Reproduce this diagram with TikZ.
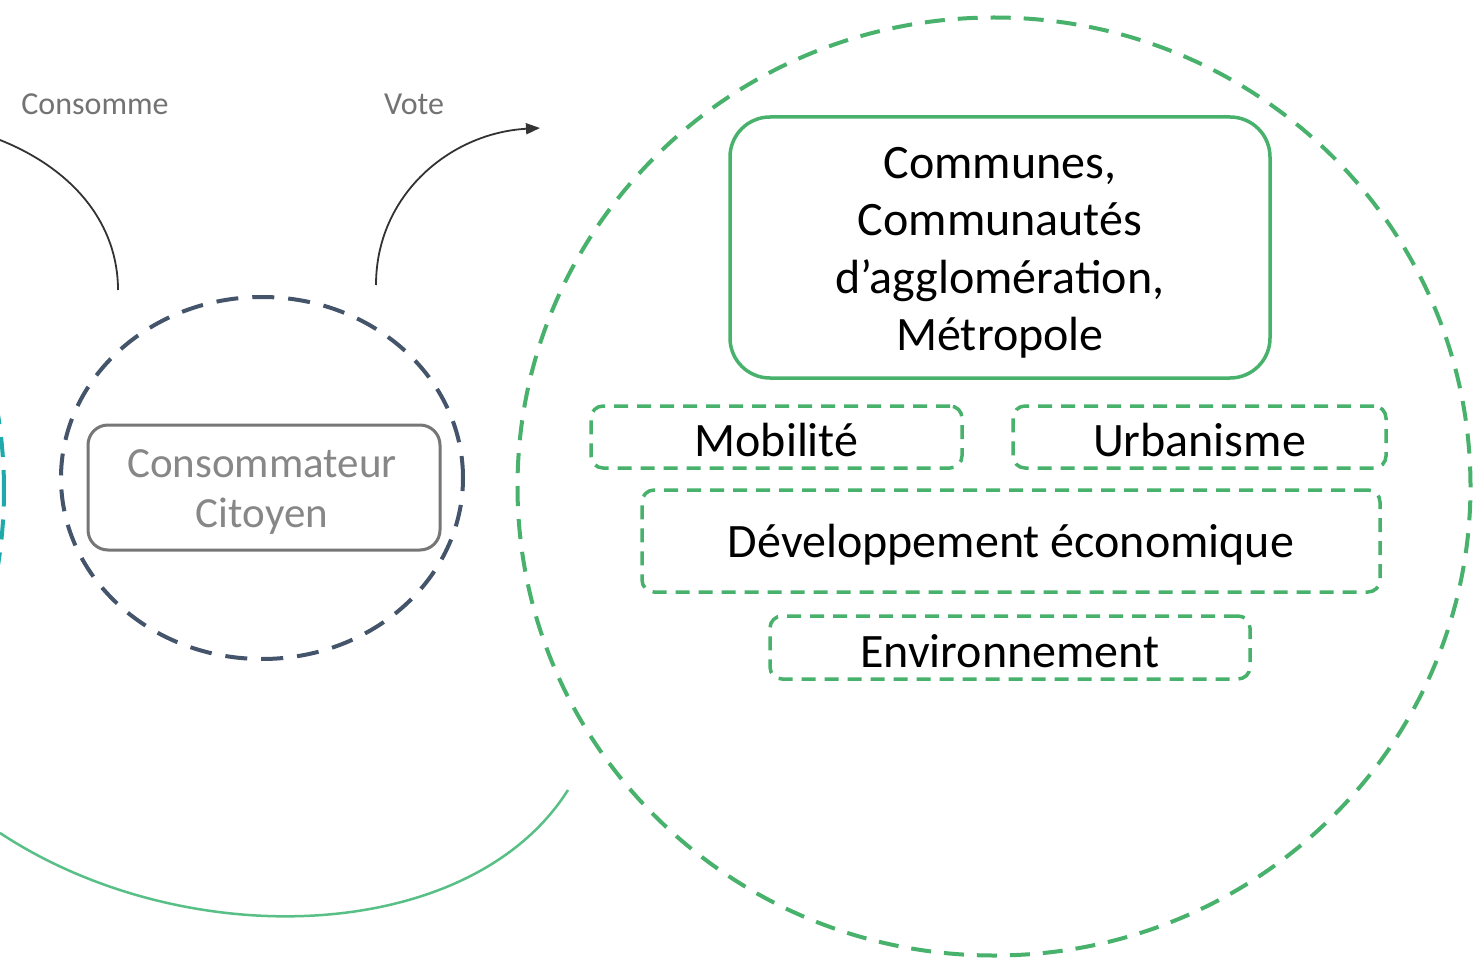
\documentclass[tikz,border=0pt]{standalone}
\usepackage{fontspec}
\setmainfont{Carlito}
\usetikzlibrary{arrows.meta,shapes.geometric}
\definecolor{grn}{RGB}{72,178,108}
\definecolor{grnlight}{RGB}{88,192,134}
\definecolor{slate}{RGB}{68,84,106}
\definecolor{tealc}{RGB}{30,170,170}
\definecolor{boxgray}{RGB}{118,118,118}
\definecolor{txtgray}{RGB}{135,135,135}
\definecolor{lblgray}{RGB}{115,115,115}
\tikzset{
  bigcirc/.style={ellipse,draw=grn,line width=4pt,dash pattern=on 20pt off 13pt,inner sep=0pt,minimum width=953pt,minimum height=938pt},
  smallell/.style={ellipse,draw=slate,line width=4pt,dash pattern=on 22pt off 14pt,inner sep=0pt,minimum width=402pt,minimum height=362pt},
  tealcirc/.style={circle,draw=tealc,line width=4pt,dash pattern=on 20pt off 13pt,inner sep=0pt,minimum size=940pt},
  mainbox/.style={draw=grn,line width=3.5pt,rounded corners=40pt,inner sep=0pt},
  dbox/.style={draw=grn,line width=3.5pt,dash pattern=on 14pt off 9pt,rounded corners=12pt,inner sep=0pt},
  graybox/.style={draw=boxgray,line width=3pt,rounded corners=20pt,inner sep=0pt},
  bigtxt/.style={align=center,inner sep=0pt,font=\fontsize{48}{57.5}\selectfont},
  graytxt/.style={align=center,inner sep=0pt,text=txtgray,font=\fontsize{43}{50}\selectfont},
  lbl/.style={text=lblgray,font=\fontsize{32}{36}\selectfont,inner sep=0pt},
  conn/.style={line width=1.8pt,black!80}
}
\begin{document}
\begin{tikzpicture}[x=1pt,y=-1pt]
\useasboundingbox (0,0) rectangle (1473,960);
\clip (0,0) rectangle (1473,960);
\fill[white] (0,0) rectangle (1473,960);

% circles
\node[bigcirc] (zone) at (994,486.5) {};
\node[smallell] (citoyen) at (262,478) {};
\node[tealcirc] (autre) at (-466,490) {};

% boxes
\node[mainbox,minimum width=540pt,minimum height=261pt] (communes) at (1000,247.5) {};
\node[bigtxt] (communestxt) at (1000,253)
  {Communes,\\Communautés\\d’agglomération,\\Métropole};
\node[dbox,minimum width=371pt,minimum height=62pt] (mob) at (776.5,437) {};
\node[bigtxt] (mobtxt) at (776.5,440.5) {Mobilité};
\node[dbox,minimum width=373pt,minimum height=62pt] (urb) at (1199.5,437) {};
\node[bigtxt] (urbtxt) at (1199.5,440.5) {Urbanisme};
\node[dbox,minimum width=738pt,minimum height=102pt] (dev) at (1011,541) {};
\node[bigtxt] (devtxt) at (1011,544.5) {Développement économique};
\node[dbox,minimum width=480pt,minimum height=63pt] (env) at (1010,647.5) {};
\node[bigtxt] (envtxt) at (1010,651) {Environnement};
\node[graybox,minimum width=352pt,minimum height=125pt] (conso) at (264,487.5) {};
\node[graytxt] (consotxt) at (262,492) {Consommateur\\Citoyen};

% labels
\node[lbl] (lconso) at (95,104) {Consomme};
\node[lbl] (lvote) at (414,104) {Vote};

% connectors
\coordinate (c1s) at (0,140);
\coordinate (c1e) at (118,290);
\coordinate (c2s) at (376,285);
\coordinate (c2e) at (540,128);
\coordinate (c3s) at (0,833);
\coordinate (c3e) at (568,790);
\draw[conn] (c1s) .. controls (75,170) and (118,225) .. (c1e);
\draw[conn,-{Triangle[length=14pt,width=11pt]}] (c2s) .. controls (376,195) and (450,133) .. (c2e);
\draw[grnlight,line width=2.5pt] (c3s) .. controls (185,955) and (470,945) .. (c3e);
\end{tikzpicture}
\end{document}
